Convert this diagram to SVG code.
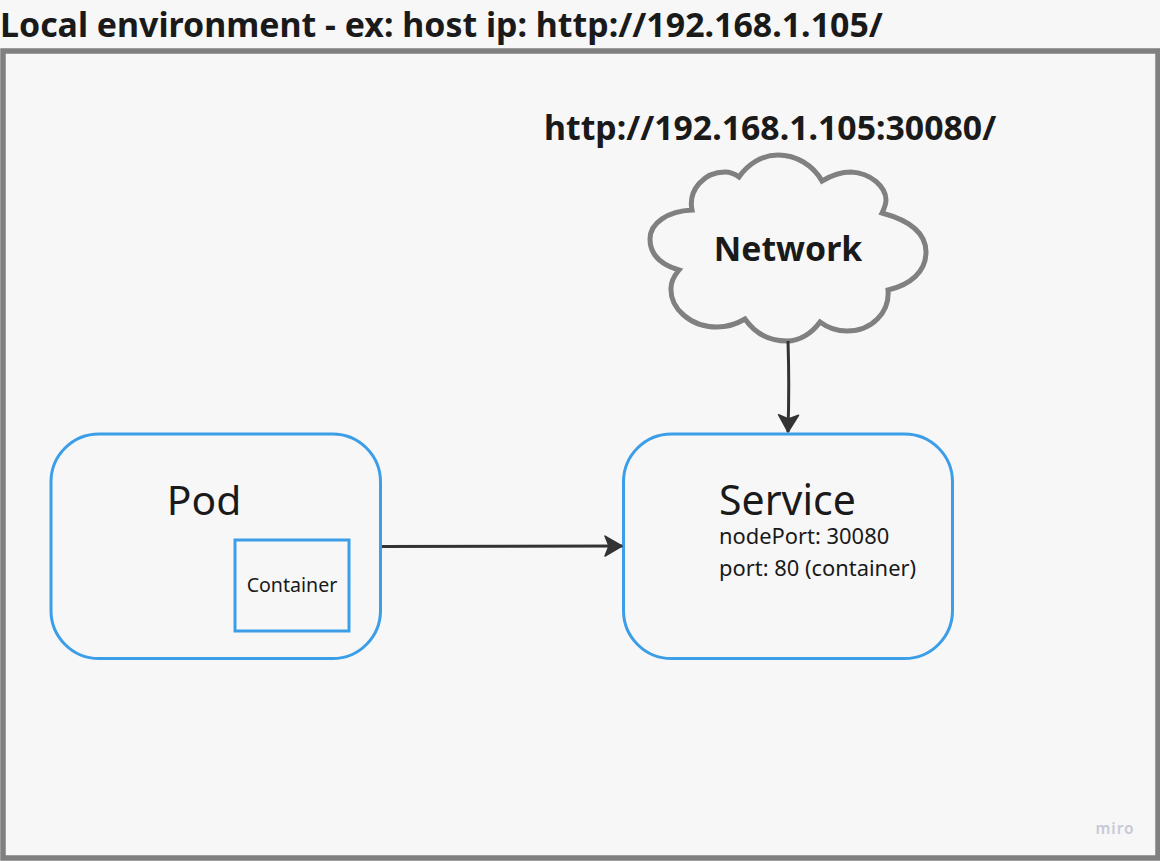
<svg xmlns="http://www.w3.org/2000/svg" width="1160" height="861" viewBox="0 0 1160 861">
<defs>
<style>
text{font-family:"Noto Sans","Open Sans","Liberation Sans",sans-serif;fill:#1a1a1a}
.b{font-weight:700}
.blue{fill:none;stroke:#3d9ee8;stroke-width:3}
.conn{fill:none;stroke:#333;stroke-width:3;marker-end:url(#arrow)}
</style>
<marker id="arrow" markerUnits="userSpaceOnUse" markerWidth="22" markerHeight="26" refX="19" refY="12" orient="auto">
<path d="M2 2 L19 12 L2 22 L6 12 Z" fill="#333" stroke="#333" stroke-width="1.500" stroke-linejoin="round"/>
</marker>
</defs>
<rect width="1160" height="861" fill="#f7f7f7"/>
<text id="title" class="b" x="0" y="37" font-size="33.900">Local environment - ex: host ip: http://192.168.1.105/</text>
<rect id="frame" x="3" y="51" width="1155" height="807" fill="none" stroke="#808080" stroke-width="5.500"/>
<text id="url" class="b" x="544" y="140" font-size="33.800">http://192.168.1.105:30080/</text>
<g id="network">
<path d="M739 177C748 164 762 155 778 155C796 155 813 165 822 181C832 175 842 172 851 172C871 173 886 187 886 200C886 205 884 209 882 213C908 220 926 232 926 252C926 272 910 285 888 290C890 312 872 331 847 331C836 331 828 328 820 322C812 333 800 341 787 341C768 341 754 332 745 319C735 325 725 327 717 327C690 327 670 308 671 288C671 282 674 276 679 270C662 265 650 255 650 239C650 223 668 211 692 210C688 190 704 172 725 172C730 172 735 174 739 177Z" fill="#f7f7f7" stroke="#808080" stroke-width="5"/>
<text class="b" x="788" y="261" font-size="33.800" text-anchor="middle">Network</text>
</g>
<g id="pod">
<rect class="blue" x="51" y="434" width="329.500" height="224.500" rx="48" ry="48"/>
<text x="204" y="515" font-size="40.800" text-anchor="middle">Pod</text>
</g>
<g id="container">
<rect class="blue" x="235" y="540" width="114" height="91"/>
<text x="292" y="592" font-size="19.600" text-anchor="middle">Container</text>
</g>
<g id="service">
<rect class="blue" x="623.500" y="434" width="329" height="224.500" rx="48" ry="48"/>
<text x="719" y="515" font-size="41">Service</text>
<text x="719" y="544" font-size="21.900">nodePort: 30080</text>
<text x="719" y="576" font-size="21.900">port: 80 (container)</text>
</g>
<g id="connectors">
<path class="conn" d="M382 546.500L622 546"/>
<path class="conn" d="M788 341C789 370 789 400 788 432"/>
</g>
<text id="watermark" x="1115" y="834" font-size="15.500" font-weight="600" text-anchor="middle" letter-spacing="1" style="fill:#c8c9d6">miro</text>
</svg>
